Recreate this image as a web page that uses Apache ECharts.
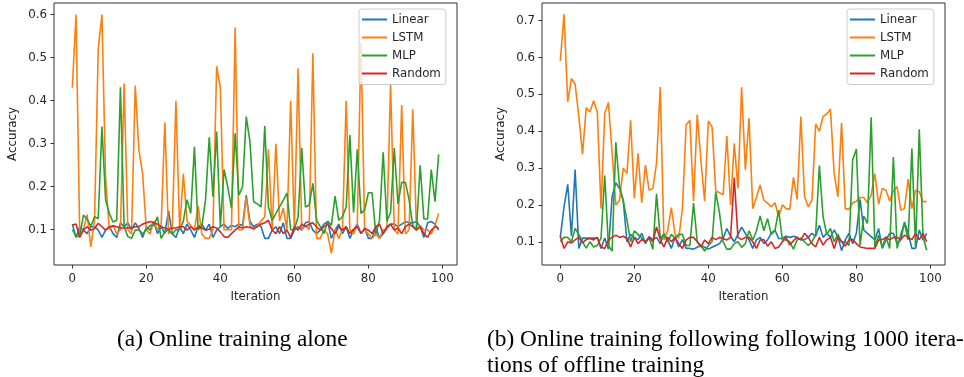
<!DOCTYPE html>
<html>
<head>
<meta charset="utf-8">
<script src="https://cdn.jsdelivr.net/npm/echarts@6/dist/echarts.min.js"></script>
<style>
html, body { margin: 0; padding: 0; background: #fff; }
#chart { width: 964px; height: 377px; }
</style>
</head>
<body>
<div id="chart"></div>
<script>
// series names / colours (matplotlib tab10)
const seriesNames = ['Linear', 'LSTM', 'MLP', 'Random'];
const colors = ['#1f77b4', '#ff7f0e', '#2ca02c', '#d62728'];

// tick labels
const xTicks = [0, 20, 40, 60, 80, 100];
const yTicksA = [0.1, 0.2, 0.3, 0.4, 0.5, 0.6];
const yTicksB = [0.1, 0.2, 0.3, 0.4, 0.5, 0.6, 0.7];

// (a) online training alone, iterations 0..99
const linearA = [0.113,0.082,0.107,0.099,0.091,0.107,0.107,0.099,0.082,0.099,
  0.107,0.091,0.082,0.116,0.107,0.116,0.099,0.116,0.103,0.082,
  0.107,0.099,0.119,0.091,0.107,0.091,0.144,0.091,0.082,0.107,
  0.091,0.113,0.099,0.082,0.107,0.113,0.099,0.113,0.082,0.099,
  0.107,0.113,0.103,0.110,0.107,0.113,0.110,0.180,0.119,0.107,
  0.113,0.107,0.080,0.080,0.099,0.107,0.091,0.116,0.080,0.080,
  0.099,0.107,0.099,0.116,0.119,0.099,0.091,0.099,0.113,0.119,
  0.080,0.099,0.113,0.091,0.107,0.080,0.099,0.113,0.091,0.103,
  0.080,0.080,0.107,0.080,0.091,0.103,0.113,0.113,0.107,0.113,
  0.119,0.116,0.116,0.119,0.107,0.082,0.116,0.119,0.113,0.099];
const lstmA = [0.430,0.600,0.090,0.100,0.135,0.060,0.120,0.520,0.600,0.220,
  0.100,0.110,0.090,0.100,0.440,0.100,0.090,0.435,0.285,0.230,
  0.100,0.090,0.120,0.100,0.110,0.350,0.090,0.100,0.400,0.100,
  0.230,0.120,0.110,0.100,0.155,0.090,0.080,0.080,0.100,0.480,
  0.430,0.100,0.100,0.100,0.570,0.100,0.100,0.175,0.110,0.100,
  0.110,0.120,0.130,0.287,0.100,0.300,0.120,0.150,0.100,0.400,
  0.100,0.475,0.100,0.110,0.100,0.510,0.080,0.080,0.100,0.090,
  0.045,0.100,0.080,0.100,0.400,0.100,0.090,0.110,0.535,0.100,
  0.090,0.080,0.090,0.080,0.100,0.100,0.440,0.100,0.090,0.390,
  0.090,0.100,0.380,0.100,0.110,0.100,0.100,0.090,0.110,0.138];
const mlpA = [0.100,0.085,0.085,0.134,0.125,0.107,0.130,0.126,0.340,0.169,
  0.138,0.118,0.122,0.431,0.107,0.084,0.080,0.099,0.100,0.090,
  0.100,0.110,0.110,0.130,0.080,0.095,0.100,0.090,0.100,0.100,
  0.120,0.170,0.138,0.293,0.100,0.107,0.170,0.315,0.177,0.328,
  0.107,0.240,0.200,0.150,0.324,0.180,0.200,0.363,0.305,0.165,
  0.160,0.153,0.341,0.153,0.122,0.138,0.153,0.169,0.185,0.100,
  0.100,0.130,0.290,0.153,0.157,0.208,0.122,0.107,0.091,0.120,
  0.110,0.178,0.122,0.130,0.153,0.320,0.140,0.287,0.138,0.146,
  0.186,0.186,0.090,0.120,0.280,0.120,0.140,0.290,0.160,0.210,
  0.210,0.170,0.110,0.100,0.250,0.125,0.125,0.240,0.165,0.275];
const randomA = [0.111,0.113,0.082,0.099,0.107,0.099,0.103,0.115,0.107,0.099,
  0.107,0.109,0.107,0.104,0.104,0.104,0.104,0.107,0.107,0.113,
  0.116,0.119,0.116,0.113,0.107,0.104,0.101,0.104,0.104,0.107,
  0.107,0.099,0.107,0.099,0.107,0.104,0.099,0.101,0.107,0.104,
  0.095,0.084,0.082,0.091,0.099,0.107,0.104,0.107,0.105,0.103,
  0.107,0.113,0.116,0.122,0.099,0.091,0.107,0.091,0.099,0.082,
  0.107,0.099,0.113,0.107,0.113,0.116,0.107,0.099,0.107,0.113,
  0.103,0.091,0.107,0.099,0.107,0.091,0.101,0.107,0.091,0.103,
  0.099,0.091,0.107,0.113,0.091,0.107,0.113,0.099,0.104,0.091,
  0.107,0.113,0.107,0.099,0.107,0.091,0.082,0.099,0.107,0.104];

// (b) online training after 1000 offline iterations
const linearB = [0.112,0.195,0.256,0.115,0.296,0.082,0.110,0.110,0.110,0.110,
  0.110,0.082,0.110,0.080,0.222,0.260,0.245,0.213,0.100,0.120,
  0.112,0.105,0.123,0.095,0.114,0.105,0.112,0.095,0.123,0.105,
  0.082,0.112,0.086,0.106,0.082,0.082,0.080,0.085,0.090,0.085,
  0.080,0.085,0.090,0.095,0.110,0.136,0.115,0.100,0.120,0.140,
  0.123,0.105,0.082,0.105,0.112,0.095,0.105,0.123,0.132,0.109,
  0.109,0.115,0.112,0.115,0.112,0.105,0.106,0.112,0.123,0.115,
  0.145,0.112,0.123,0.112,0.132,0.114,0.076,0.105,0.123,0.095,
  0.123,0.215,0.132,0.123,0.114,0.105,0.136,0.082,0.105,0.123,
  0.123,0.095,0.105,0.154,0.123,0.082,0.082,0.132,0.105,0.123];
const lstmB = [0.591,0.718,0.480,0.543,0.528,0.440,0.338,0.464,0.452,0.483,
  0.452,0.190,0.448,0.478,0.340,0.200,0.213,0.300,0.285,0.430,
  0.218,0.340,0.206,0.308,0.240,0.245,0.313,0.520,0.105,0.130,
  0.193,0.120,0.110,0.190,0.417,0.430,0.210,0.445,0.320,0.210,
  0.428,0.412,0.238,0.233,0.228,0.387,0.200,0.367,0.245,0.519,
  0.295,0.435,0.190,0.220,0.254,0.213,0.205,0.195,0.206,0.168,
  0.200,0.190,0.188,0.275,0.215,0.440,0.222,0.195,0.213,0.420,
  0.400,0.440,0.447,0.460,0.285,0.222,0.423,0.190,0.188,0.206,
  0.210,0.220,0.220,0.206,0.227,0.285,0.202,0.245,0.240,0.211,
  0.238,0.250,0.186,0.190,0.270,0.190,0.240,0.236,0.209,0.209];
const mlpB = [0.100,0.112,0.112,0.100,0.136,0.120,0.100,0.083,0.100,0.086,
  0.090,0.110,0.280,0.090,0.075,0.370,0.250,0.210,0.160,0.100,
  0.130,0.120,0.110,0.100,0.110,0.080,0.230,0.110,0.120,0.100,
  0.120,0.110,0.120,0.120,0.090,0.090,0.205,0.100,0.090,0.075,
  0.090,0.100,0.235,0.180,0.100,0.080,0.080,0.095,0.100,0.085,
  0.095,0.130,0.105,0.130,0.170,0.130,0.163,0.120,0.130,0.186,
  0.105,0.105,0.100,0.080,0.105,0.110,0.100,0.090,0.100,0.120,
  0.307,0.168,0.120,0.136,0.100,0.120,0.100,0.100,0.090,0.322,
  0.352,0.090,0.170,0.150,0.438,0.086,0.118,0.086,0.114,0.082,
  0.330,0.082,0.120,0.150,0.105,0.353,0.086,0.405,0.115,0.077];
const randomB = [0.115,0.082,0.100,0.097,0.105,0.112,0.097,0.106,0.109,0.105,
  0.112,0.086,0.082,0.105,0.112,0.118,0.112,0.115,0.109,0.086,
  0.112,0.095,0.106,0.100,0.112,0.100,0.140,0.106,0.086,0.112,
  0.100,0.112,0.095,0.082,0.105,0.112,0.112,0.100,0.086,0.105,
  0.095,0.112,0.106,0.112,0.109,0.105,0.112,0.274,0.112,0.106,
  0.112,0.112,0.100,0.082,0.105,0.106,0.088,0.100,0.082,0.086,
  0.100,0.112,0.091,0.103,0.112,0.105,0.123,0.112,0.095,0.086,
  0.112,0.091,0.105,0.112,0.082,0.112,0.100,0.088,0.105,0.106,
  0.095,0.086,0.084,0.082,0.082,0.082,0.105,0.106,0.112,0.105,
  0.112,0.112,0.106,0.118,0.112,0.106,0.123,0.106,0.123,0.100];

const captionA = '(a) Online training alone';
const captionB1 = '(b) Online training following following 1000 itera-';
const captionB2 = 'tions of offline training';

const plotA = [linearA, lstmA, mlpA, randomA];
const plotB = [linearB, lstmB, mlpB, randomB];

const FONT = 'DejaVu Sans';
const TXT = '#262626';
const CAP_FONT = '23.4px "Liberation Serif"';

function toPairs(arr) {
  return arr.map((v, i) => [i, v]);
}

function makeSeries(list, idx) {
  return list.map((arr, k) => ({
    name: seriesNames[k],
    type: 'line',
    xAxisIndex: idx,
    yAxisIndex: idx,
    data: toPairs(arr),
    symbol: 'none',
    showSymbol: false,
    lineStyle: { width: 1.6, color: colors[k] },
    itemStyle: { color: colors[k] },
    emphasis: { disabled: true },
    animation: false
  }));
}

function makeX(idx) {
  return {
    type: 'value',
    gridIndex: idx,
    min: -4.95,
    max: 103.95,
    name: 'Iteration',
    nameLocation: 'middle',
    nameGap: 26,
    nameTextStyle: { fontFamily: FONT, fontSize: 11.8, color: TXT },
    axisLine: { show: false, onZero: false },
    splitLine: { show: false },
    axisTick: { show: true, customValues: xTicks, length: 3.5, lineStyle: { color: '#333', width: 1 } },
    axisLabel: { customValues: xTicks, margin: 8, fontFamily: FONT, fontSize: 11.8, color: TXT }
  };
}

function makeY(idx, ticks, min, max) {
  return {
    type: 'value',
    gridIndex: idx,
    min: min,
    max: max,
    name: 'Accuracy',
    nameLocation: 'middle',
    nameGap: 35,
    nameTextStyle: { fontFamily: FONT, fontSize: 11.8, color: TXT },
    axisLine: { show: false, onZero: false },
    splitLine: { show: false },
    axisTick: { show: true, customValues: ticks, length: 3.5, lineStyle: { color: '#333', width: 1 } },
    axisLabel: {
      customValues: ticks, margin: 7, fontFamily: FONT, fontSize: 11.8, color: TXT,
      formatter: v => v.toFixed(1)
    }
  };
}

function makeLegend(left) {
  return {
    data: seriesNames,
    left: left,
    top: 9,
    orient: 'vertical',
    selectedMode: false,
    icon: 'rect',
    itemWidth: 25,
    itemHeight: 2,
    itemGap: 4,
    itemTextGap: 10,
    padding: [3.5, 5, 4, 3],
    backgroundColor: 'rgba(255,255,255,0.8)',
    borderColor: '#cccccc',
    borderWidth: 1,
    borderRadius: 3,
    textStyle: { fontFamily: FONT, fontSize: 11.8, color: TXT, lineHeight: 14 }
  };
}

const chart = echarts.init(document.getElementById('chart'), null, { renderer: 'canvas' });

chart.setOption({
  animation: false,
  backgroundColor: '#fff',
  grid: [
    { left: 54, top: 3, width: 403, height: 262, show: true, borderColor: '#333', borderWidth: 1, backgroundColor: 'transparent' },
    { left: 542, top: 3, width: 403, height: 262, show: true, borderColor: '#333', borderWidth: 1, backgroundColor: 'transparent' }
  ],
  xAxis: [makeX(0), makeX(1)],
  yAxis: [makeY(0, yTicksA, 0.018, 0.627), makeY(1, yTicksB, 0.037, 0.748)],
  legend: [makeLegend(359), makeLegend(847)],
  series: makeSeries(plotA, 0).concat(makeSeries(plotB, 1)),
  graphic: [
    { type: 'text', left: 117, top: 328, style: { text: captionA, font: CAP_FONT, fill: '#000' } },
    { type: 'text', left: 487, top: 328, style: { text: captionB1, font: CAP_FONT, fill: '#000' } },
    { type: 'text', left: 487, top: 354, style: { text: captionB2, font: CAP_FONT, fill: '#000' } }
  ]
});
</script>
</body>
</html>
